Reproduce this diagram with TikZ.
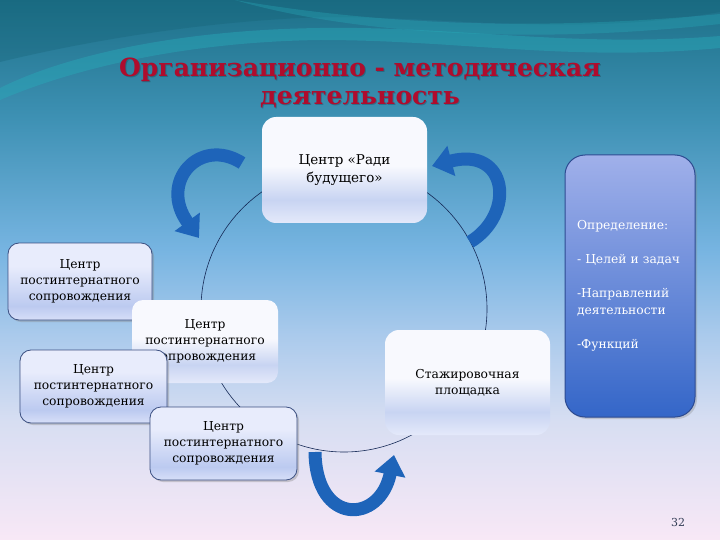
\documentclass[tikz,border=0pt]{standalone}
\usepackage{fontspec}
\setmainfont{DejaVu Serif}
\usetikzlibrary{arrows.meta,shadows}

\definecolor{bg1}{RGB}{28,112,136}
\definecolor{bg2}{RGB}{62,145,180}
\definecolor{bg3}{RGB}{118,180,225}
\definecolor{bg4}{RGB}{170,202,236}
\definecolor{bg5}{RGB}{215,222,242}
\definecolor{bg6}{RGB}{248,232,246}
\definecolor{wavecyan}{RGB}{40,170,185}
\definecolor{wavedark}{RGB}{20,95,115}
\definecolor{titlered}{RGB}{175,12,45}
\definecolor{arrowblue}{RGB}{30,100,185}
\definecolor{ringcol}{RGB}{20,40,85}
\definecolor{w1}{RGB}{248,249,254}
\definecolor{w2}{RGB}{200,212,242}
\definecolor{w3}{RGB}{228,233,250}
\definecolor{f1}{RGB}{232,236,252}
\definecolor{f2}{RGB}{188,202,240}
\definecolor{f3}{RGB}{215,223,248}
\definecolor{framecol}{RGB}{60,80,130}
\definecolor{blue1}{RGB}{160,176,234}
\definecolor{blue2}{RGB}{52,102,200}
\definecolor{blueframe}{RGB}{45,75,145}
\definecolor{pagenum}{RGB}{50,60,85}

\pgfdeclareverticalshading{bgshade}{100bp}{color(0bp)=(bg6); color(25bp)=(bg6); color(36bp)=(bg5); color(44bp)=(bg4); color(52bp)=(bg3); color(64bp)=(bg2); color(75bp)=(bg1); color(100bp)=(bg1)}
\pgfdeclareverticalshading{whitebox}{100bp}{color(0bp)=(w3); color(25bp)=(w3); color(36bp)=(w2); color(52bp)=(w1); color(100bp)=(w1)}
\pgfdeclareverticalshading{framebox}{100bp}{color(0bp)=(f3); color(25bp)=(f3); color(34bp)=(f2); color(60bp)=(f1); color(100bp)=(f1)}

\tikzset{
  boxbase/.style={align=center, text=black, inner sep=2pt, rounded corners=11pt,
    font=\fontsize{12.3}{16}\selectfont},
  plainbox/.style={boxbase, shade, shading=whitebox},
  framedbox/.style={boxbase, shade, shading=framebox, draw=framecol, line width=0.8pt,
    drop shadow={shadow xshift=2pt, shadow yshift=-2pt, opacity=0.35}},
  bluebox/.style={rounded corners=20pt, top color=blue1, bottom color=blue2, draw=blueframe,
    line width=1pt, text=white, align=left, text width=106pt, inner sep=2pt,
    font=\fontsize{12.3}{17}\selectfont,
    drop shadow={shadow xshift=2pt, shadow yshift=-2pt, opacity=0.3}},
  titletext/.style={font=\fontsize{25}{30}\selectfont\bfseries, text=titlered},
  titleshadow/.style={font=\fontsize{25}{30}\selectfont\bfseries, text=black, opacity=0.2},
  bigarrow/.style={draw=arrowblue, line width=13pt, -{Triangle[length=20pt,width=30pt]}},
  ring/.style={draw=ringcol, line width=0.6pt},
}

\begin{document}
\begin{tikzpicture}[x=1pt,y=-1pt]
\useasboundingbox (0,0) rectangle (720,540);
\shade[shading=bgshade] (0,0) rectangle (720,540);

% waves at the top
\fill[wavedark, opacity=0.3] (0,0) -- (720,0) -- (720,12)
  .. controls (560,40) and (420,12) .. (300,18) .. controls (180,24) and (70,45) .. (0,62) -- cycle;
\fill[wavecyan, opacity=0.45] (0,88) .. controls (60,58) and (170,30) .. (320,28)
  .. controls (460,26) and (570,48) .. (720,36) -- (720,48)
  .. controls (570,62) and (460,40) .. (320,40) .. controls (180,42) and (70,70) .. (0,100) -- cycle;
\fill[wavecyan, opacity=0.35] (235,0) .. controls (340,18) and (500,35) .. (720,14)
  -- (720,24) .. controls (500,48) and (330,28) .. (235,0) -- cycle;

% title
\node[titleshadow] (t1s) at (361,71) {Организационно - методическая};
\node[titleshadow] (t2s) at (361,101) {деятельность};
\node[titletext] (t1) at (360,70) {Организационно - методическая};
\node[titletext] (t2) at (360,100) {деятельность};

% ring
\coordinate (c) at (344,309);
\draw[ring] (c) circle[radius=143];

% curved arrows
\coordinate (a1s) at (242,163);
\coordinate (a1e) at (199,238);
\draw[bigarrow] (a1s) .. controls (200,136) and (158,182) .. (a1e);
\coordinate (a2s) at (470,242);
\coordinate (a2e) at (432,166);
\draw[bigarrow] (a2s) .. controls (516,214) and (508,146) .. (a2e);
\coordinate (a3s) at (315,452);
\coordinate (a3e) at (394,455);
\draw[bigarrow] (a3s) .. controls (316,526) and (380,524) .. (a3e);

% boxes
\node[plainbox, minimum width=165pt, minimum height=106pt, rounded corners=14pt,
  font=\fontsize{13.5}{18}\selectfont] (top) at (344.5,170) {Центр «Ради\\будущего»};
\node[framedbox, minimum width=144pt, minimum height=77pt] (b1) at (80,281.5)
  {Центр\\постинтернатного\\сопровождения};
\node[plainbox, minimum width=146pt, minimum height=83pt] (b2) at (205,341.5)
  {Центр\\постинтернатного\\сопровождения};
\node[framedbox, minimum width=147pt, minimum height=73pt] (b3) at (93.5,386.5)
  {Центр\\постинтернатного\\сопровождения};
\node[framedbox, minimum width=147pt, minimum height=73pt] (b4) at (223.5,443.5)
  {Центр\\постинтернатного\\сопровождения};
\node[plainbox, minimum width=165pt, minimum height=105pt, rounded corners=14pt] (st) at (467.5,382.5)
  {Стажировочная\\площадка};
\node[bluebox, minimum width=130pt, minimum height=262pt] (bl) at (630,286)
  {Определение:\\[17pt]- Целей и задач\\[17pt]-Направлений\\деятельности\\[17pt]-Функций};

% page number
\node[text=pagenum, font=\fontsize{11}{13}\selectfont] (pg) at (678,522) {32};
\end{tikzpicture}
\end{document}
